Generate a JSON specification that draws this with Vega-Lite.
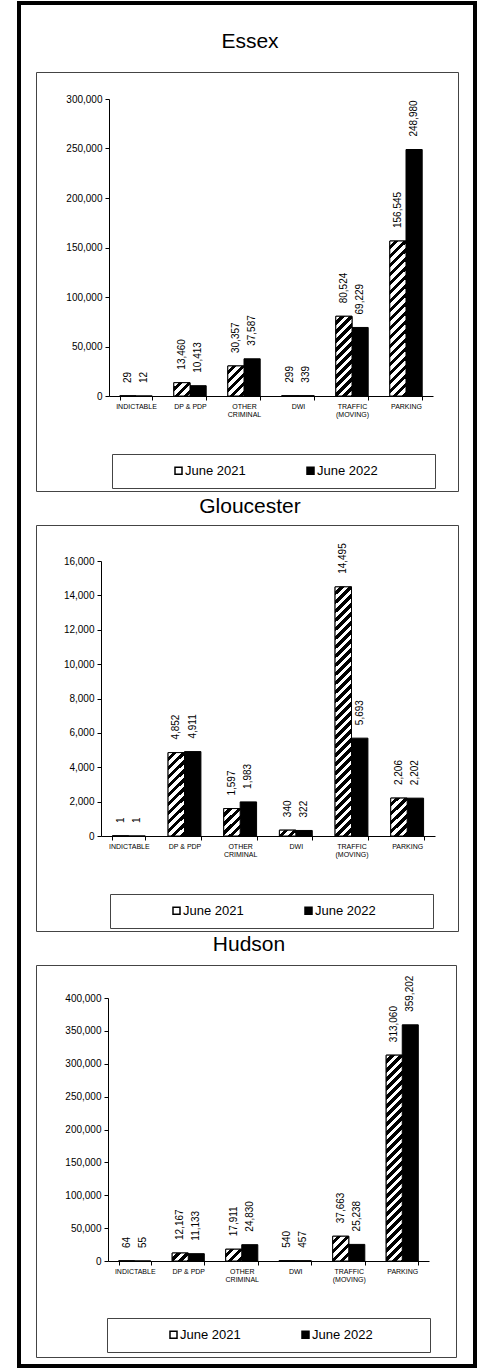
{
"$schema": "https://vega.github.io/schema/vega-lite/v6.json",
"background": "white",
"padding": {"left": 18, "top": 2, "right": 5, "bottom": 3},
"bounds": "flush",
"spacing": 34,
"datasets": {
"essex": [
{"cat":"INDICTABLE","year":"June 2021","v":29},
{"cat":"INDICTABLE","year":"June 2022","v":12},
{"cat":"DP & PDP","year":"June 2021","v":13460},
{"cat":"DP & PDP","year":"June 2022","v":10413},
{"cat":"OTHER CRIMINAL","year":"June 2021","v":30357},
{"cat":"OTHER CRIMINAL","year":"June 2022","v":37587},
{"cat":"DWI","year":"June 2021","v":299},
{"cat":"DWI","year":"June 2022","v":339},
{"cat":"TRAFFIC (MOVING)","year":"June 2021","v":80524},
{"cat":"TRAFFIC (MOVING)","year":"June 2022","v":69229},
{"cat":"PARKING","year":"June 2021","v":156545},
{"cat":"PARKING","year":"June 2022","v":248980}
],
"gloucester": [
{"cat":"INDICTABLE","year":"June 2021","v":1},
{"cat":"INDICTABLE","year":"June 2022","v":1},
{"cat":"DP & PDP","year":"June 2021","v":4852},
{"cat":"DP & PDP","year":"June 2022","v":4911},
{"cat":"OTHER CRIMINAL","year":"June 2021","v":1597},
{"cat":"OTHER CRIMINAL","year":"June 2022","v":1983},
{"cat":"DWI","year":"June 2021","v":340},
{"cat":"DWI","year":"June 2022","v":322},
{"cat":"TRAFFIC (MOVING)","year":"June 2021","v":14495},
{"cat":"TRAFFIC (MOVING)","year":"June 2022","v":5693},
{"cat":"PARKING","year":"June 2021","v":2206},
{"cat":"PARKING","year":"June 2022","v":2202}
],
"hudson": [
{"cat":"INDICTABLE","year":"June 2021","v":64},
{"cat":"INDICTABLE","year":"June 2022","v":55},
{"cat":"DP & PDP","year":"June 2021","v":12167},
{"cat":"DP & PDP","year":"June 2022","v":11133},
{"cat":"OTHER CRIMINAL","year":"June 2021","v":17911},
{"cat":"OTHER CRIMINAL","year":"June 2022","v":24830},
{"cat":"DWI","year":"June 2021","v":540},
{"cat":"DWI","year":"June 2022","v":457},
{"cat":"TRAFFIC (MOVING)","year":"June 2021","v":37663},
{"cat":"TRAFFIC (MOVING)","year":"June 2022","v":25238},
{"cat":"PARKING","year":"June 2021","v":313060},
{"cat":"PARKING","year":"June 2022","v":359202}
]
},
"resolve": {"scale": {"fill": "independent", "xOffset": "independent", "stroke": "independent"}, "legend": {"fill": "independent", "stroke": "independent"}},
"vconcat": [
{
"width": 422, "height": 1,
"view": {"stroke": null},
"data": {"name": "essex"},
"mark": {"type": "point", "opacity": 0},
"encoding": {
"stroke": {"field": "v", "type": "quantitative", "scale": {"range": ["transparent", "transparent"]},
"legend": {"orient": "none", "legendX": -17, "legendY": -34, "direction": "vertical", "title": null, "gradientLength": 1363, "gradientThickness": 456, "gradientStrokeWidth": 4, "gradientStrokeColor": "black", "strokeColor": "transparent", "padding": 0, "labelOpacity": 0, "labelFontSize": 1, "labelExpr": "''"}}
}
},
{
"title": {"text": "Essex", "offset": 20, "fontWeight": 400, "fontSize": 21},
"width": 422, "height": 419,
"data": {"name": "essex"},
"encoding": {
"x": {"field": "cat", "type": "nominal", "title": null, "sort": ["INDICTABLE","DP & PDP","OTHER CRIMINAL","DWI","TRAFFIC (MOVING)","PARKING"],
"scale": {"range": [73, 397], "paddingInner": 0.4, "paddingOuter": 0.2},
"axis": {"offset": -95, "tickBand": "extent", "labelExpr": "datum.label == 'OTHER CRIMINAL' ? ['OTHER', 'CRIMINAL'] : datum.label == 'TRAFFIC (MOVING)' ? ['TRAFFIC', '(MOVING)'] : datum.label"}},
"xOffset": {"field": "year", "type": "nominal", "scale": {"paddingInner": 0, "paddingOuter": 0}},
"y": {"field": "v", "type": "quantitative", "title": null, "scale": {"domain": [0, 300000], "range": [324, 27], "nice": false},
"axis": {"offset": -73, "values": [0,50000,100000,150000,200000,250000,300000], "format": ",d"}}
},
"layer": [
{"mark": {"type": "bar", "stroke": "black", "strokeWidth": 1},
"encoding": {"fill": {"field": "year", "type": "nominal", "scale": {"range": ["white", "black"]},
"legend": {"orient": "none", "legendX": 76, "legendY": 382, "direction": "horizontal", "title": "\u200b\u00a0\u00a0\u00a0\u00a0\u00a0\u00a0\u00a0\u00a0\u00a0\u00a0\u00a0\u00a0\u00a0\u200b", "labelExpr": "datum.label + '\u00a0\u00a0\u00a0\u00a0\u00a0\u00a0\u00a0\u00a0\u00a0\u00a0\u00a0\u00a0\u00a0\u200b'"}}}},
{"transform": [{"filter": "datum.year == 'June 2021'"}],
"mark": {"type": "bar", "stroke": "black", "strokeWidth": 1},
"encoding": {"fill": {"condition": [
{"test": "datum.cat == 'DP & PDP'", "value": {"gradient":"linear","x1":0,"y1":0,"x2":9.979,"y2":8.295,"stops":[{"offset":0,"color":"#fff"},{"offset":0.01667,"color":"#fff"},{"offset":0.01667,"color":"#000"},{"offset":0.03333,"color":"#000"},{"offset":0.03333,"color":"#fff"},{"offset":0.05,"color":"#fff"},{"offset":0.05,"color":"#000"},{"offset":0.06667,"color":"#000"},{"offset":0.06667,"color":"#fff"},{"offset":0.08333,"color":"#fff"},{"offset":0.08333,"color":"#000"},{"offset":0.1,"color":"#000"},{"offset":0.1,"color":"#fff"},{"offset":0.11667,"color":"#fff"},{"offset":0.11667,"color":"#000"}]}},
{"test": "datum.cat == 'OTHER CRIMINAL'", "value": {"gradient":"linear","x1":0,"y1":0,"x2":3.718,"y2":6.994,"stops":[{"offset":0,"color":"#fff"},{"offset":0.01667,"color":"#fff"},{"offset":0.01667,"color":"#000"},{"offset":0.03333,"color":"#000"},{"offset":0.03333,"color":"#fff"},{"offset":0.05,"color":"#fff"},{"offset":0.05,"color":"#000"},{"offset":0.06667,"color":"#000"},{"offset":0.06667,"color":"#fff"},{"offset":0.08333,"color":"#fff"},{"offset":0.08333,"color":"#000"},{"offset":0.1,"color":"#000"},{"offset":0.1,"color":"#fff"},{"offset":0.11667,"color":"#fff"},{"offset":0.11667,"color":"#000"},{"offset":0.13333,"color":"#000"},{"offset":0.13333,"color":"#fff"},{"offset":0.15,"color":"#fff"},{"offset":0.15,"color":"#000"},{"offset":0.16667,"color":"#000"},{"offset":0.16667,"color":"#fff"},{"offset":0.18333,"color":"#fff"},{"offset":0.18333,"color":"#000"}]}},
{"test": "datum.cat == 'TRAFFIC (MOVING)'", "value": {"gradient":"linear","x1":0,"y1":0,"x2":0.6538,"y2":3.2565,"stops":[{"offset":0,"color":"#fff"},{"offset":0.01667,"color":"#fff"},{"offset":0.01667,"color":"#000"},{"offset":0.03333,"color":"#000"},{"offset":0.03333,"color":"#fff"},{"offset":0.05,"color":"#fff"},{"offset":0.05,"color":"#000"},{"offset":0.06667,"color":"#000"},{"offset":0.06667,"color":"#fff"},{"offset":0.08333,"color":"#fff"},{"offset":0.08333,"color":"#000"},{"offset":0.1,"color":"#000"},{"offset":0.1,"color":"#fff"},{"offset":0.11667,"color":"#fff"},{"offset":0.11667,"color":"#000"},{"offset":0.13333,"color":"#000"},{"offset":0.13333,"color":"#fff"},{"offset":0.15,"color":"#fff"},{"offset":0.15,"color":"#000"},{"offset":0.16667,"color":"#000"},{"offset":0.16667,"color":"#fff"},{"offset":0.18333,"color":"#fff"},{"offset":0.18333,"color":"#000"},{"offset":0.2,"color":"#000"},{"offset":0.2,"color":"#fff"},{"offset":0.21667,"color":"#fff"},{"offset":0.21667,"color":"#000"},{"offset":0.23333,"color":"#000"},{"offset":0.23333,"color":"#fff"},{"offset":0.25,"color":"#fff"},{"offset":0.25,"color":"#000"},{"offset":0.26667,"color":"#000"},{"offset":0.26667,"color":"#fff"},{"offset":0.28333,"color":"#fff"},{"offset":0.28333,"color":"#000"},{"offset":0.3,"color":"#000"},{"offset":0.3,"color":"#fff"},{"offset":0.31667,"color":"#fff"},{"offset":0.31667,"color":"#000"},{"offset":0.33333,"color":"#000"},{"offset":0.33333,"color":"#fff"},{"offset":0.35,"color":"#fff"},{"offset":0.35,"color":"#000"},{"offset":0.36667,"color":"#000"},{"offset":0.36667,"color":"#fff"}]}},
{"test": "datum.cat == 'PARKING'", "value": {"gradient":"linear","x1":0,"y1":0,"x2":0.17791,"y2":1.7236,"stops":[{"offset":0,"color":"#fff"},{"offset":0.01667,"color":"#fff"},{"offset":0.01667,"color":"#000"},{"offset":0.03333,"color":"#000"},{"offset":0.03333,"color":"#fff"},{"offset":0.05,"color":"#fff"},{"offset":0.05,"color":"#000"},{"offset":0.06667,"color":"#000"},{"offset":0.06667,"color":"#fff"},{"offset":0.08333,"color":"#fff"},{"offset":0.08333,"color":"#000"},{"offset":0.1,"color":"#000"},{"offset":0.1,"color":"#fff"},{"offset":0.11667,"color":"#fff"},{"offset":0.11667,"color":"#000"},{"offset":0.13333,"color":"#000"},{"offset":0.13333,"color":"#fff"},{"offset":0.15,"color":"#fff"},{"offset":0.15,"color":"#000"},{"offset":0.16667,"color":"#000"},{"offset":0.16667,"color":"#fff"},{"offset":0.18333,"color":"#fff"},{"offset":0.18333,"color":"#000"},{"offset":0.2,"color":"#000"},{"offset":0.2,"color":"#fff"},{"offset":0.21667,"color":"#fff"},{"offset":0.21667,"color":"#000"},{"offset":0.23333,"color":"#000"},{"offset":0.23333,"color":"#fff"},{"offset":0.25,"color":"#fff"},{"offset":0.25,"color":"#000"},{"offset":0.26667,"color":"#000"},{"offset":0.26667,"color":"#fff"},{"offset":0.28333,"color":"#fff"},{"offset":0.28333,"color":"#000"},{"offset":0.3,"color":"#000"},{"offset":0.3,"color":"#fff"},{"offset":0.31667,"color":"#fff"},{"offset":0.31667,"color":"#000"},{"offset":0.33333,"color":"#000"},{"offset":0.33333,"color":"#fff"},{"offset":0.35,"color":"#fff"},{"offset":0.35,"color":"#000"},{"offset":0.36667,"color":"#000"},{"offset":0.36667,"color":"#fff"},{"offset":0.38333,"color":"#fff"},{"offset":0.38333,"color":"#000"},{"offset":0.4,"color":"#000"},{"offset":0.4,"color":"#fff"},{"offset":0.41667,"color":"#fff"},{"offset":0.41667,"color":"#000"},{"offset":0.43333,"color":"#000"},{"offset":0.43333,"color":"#fff"},{"offset":0.45,"color":"#fff"},{"offset":0.45,"color":"#000"},{"offset":0.46667,"color":"#000"},{"offset":0.46667,"color":"#fff"},{"offset":0.48333,"color":"#fff"},{"offset":0.48333,"color":"#000"},{"offset":0.5,"color":"#000"},{"offset":0.5,"color":"#fff"},{"offset":0.51667,"color":"#fff"},{"offset":0.51667,"color":"#000"},{"offset":0.53333,"color":"#000"},{"offset":0.53333,"color":"#fff"},{"offset":0.55,"color":"#fff"},{"offset":0.55,"color":"#000"},{"offset":0.56667,"color":"#000"},{"offset":0.56667,"color":"#fff"},{"offset":0.58333,"color":"#fff"},{"offset":0.58333,"color":"#000"},{"offset":0.6,"color":"#000"},{"offset":0.6,"color":"#fff"},{"offset":0.61667,"color":"#fff"},{"offset":0.61667,"color":"#000"},{"offset":0.63333,"color":"#000"},{"offset":0.63333,"color":"#fff"}]}}
], "value": "white"}}},
{"mark": {"type": "text", "angle": 270, "align": "left", "baseline": "middle", "dx": 13, "fontSize": 10, "font": "Liberation Sans", "color": "black"},
"encoding": {"text": {"field": "v", "type": "quantitative", "format": ",d"}}}
]
},
{
"title": {"text": "Gloucester", "offset": 8, "fontWeight": 400, "fontSize": 21},
"width": 422, "height": 406,
"data": {"name": "gloucester"},
"encoding": {
"x": {"field": "cat", "type": "nominal", "title": null, "sort": ["INDICTABLE","DP & PDP","OTHER CRIMINAL","DWI","TRAFFIC (MOVING)","PARKING"],
"scale": {"range": [65, 399], "paddingInner": 0.41, "paddingOuter": 0.205},
"axis": {"offset": -95, "tickBand": "extent", "labelExpr": "datum.label == 'OTHER CRIMINAL' ? ['OTHER', 'CRIMINAL'] : datum.label == 'TRAFFIC (MOVING)' ? ['TRAFFIC', '(MOVING)'] : datum.label"}},
"xOffset": {"field": "year", "type": "nominal", "scale": {"paddingInner": 0, "paddingOuter": 0}},
"y": {"field": "v", "type": "quantitative", "title": null, "scale": {"domain": [0, 16000], "range": [311, 36], "nice": false},
"axis": {"offset": -65, "values": [0,2000,4000,6000,8000,10000,12000,14000,16000], "format": ",d"}}
},
"layer": [
{"mark": {"type": "bar", "stroke": "black", "strokeWidth": 1},
"encoding": {"fill": {"field": "year", "type": "nominal", "scale": {"range": ["white", "black"]},
"legend": {"orient": "none", "legendX": 74, "legendY": 369, "direction": "horizontal", "title": "\u200b\u00a0\u00a0\u00a0\u00a0\u00a0\u00a0\u00a0\u00a0\u00a0\u00a0\u00a0\u00a0\u00a0\u200b", "labelExpr": "datum.label + '\u00a0\u00a0\u00a0\u00a0\u00a0\u00a0\u00a0\u00a0\u00a0\u00a0\u00a0\u00a0\u00a0\u200b'"}}}},
{"transform": [{"filter": "datum.year == 'June 2021'"}],
"mark": {"type": "bar", "stroke": "black", "strokeWidth": 1},
"encoding": {"fill": {"condition": [
{"test": "datum.cat == 'DP & PDP'", "value": {"gradient":"linear","x1":0,"y1":0,"x2":0.599,"y2":3.1225,"stops":[{"offset":0,"color":"#fff"},{"offset":0.01667,"color":"#fff"},{"offset":0.01667,"color":"#000"},{"offset":0.03333,"color":"#000"},{"offset":0.03333,"color":"#fff"},{"offset":0.05,"color":"#fff"},{"offset":0.05,"color":"#000"},{"offset":0.06667,"color":"#000"},{"offset":0.06667,"color":"#fff"},{"offset":0.08333,"color":"#fff"},{"offset":0.08333,"color":"#000"},{"offset":0.1,"color":"#000"},{"offset":0.1,"color":"#fff"},{"offset":0.11667,"color":"#fff"},{"offset":0.11667,"color":"#000"},{"offset":0.13333,"color":"#000"},{"offset":0.13333,"color":"#fff"},{"offset":0.15,"color":"#fff"},{"offset":0.15,"color":"#000"},{"offset":0.16667,"color":"#000"},{"offset":0.16667,"color":"#fff"},{"offset":0.18333,"color":"#fff"},{"offset":0.18333,"color":"#000"},{"offset":0.2,"color":"#000"},{"offset":0.2,"color":"#fff"},{"offset":0.21667,"color":"#fff"},{"offset":0.21667,"color":"#000"},{"offset":0.23333,"color":"#000"},{"offset":0.23333,"color":"#fff"},{"offset":0.25,"color":"#fff"},{"offset":0.25,"color":"#000"},{"offset":0.26667,"color":"#000"},{"offset":0.26667,"color":"#fff"},{"offset":0.28333,"color":"#fff"},{"offset":0.28333,"color":"#000"},{"offset":0.3,"color":"#000"},{"offset":0.3,"color":"#fff"},{"offset":0.31667,"color":"#fff"},{"offset":0.31667,"color":"#000"},{"offset":0.33333,"color":"#000"},{"offset":0.33333,"color":"#fff"},{"offset":0.35,"color":"#fff"},{"offset":0.35,"color":"#000"},{"offset":0.36667,"color":"#000"},{"offset":0.36667,"color":"#fff"},{"offset":0.38333,"color":"#fff"},{"offset":0.38333,"color":"#000"}]}},
{"test": "datum.cat == 'OTHER CRIMINAL'", "value": {"gradient":"linear","x1":0,"y1":0,"x2":4.291,"y2":7.348,"stops":[{"offset":0,"color":"#fff"},{"offset":0.01667,"color":"#fff"},{"offset":0.01667,"color":"#000"},{"offset":0.03333,"color":"#000"},{"offset":0.03333,"color":"#fff"},{"offset":0.05,"color":"#fff"},{"offset":0.05,"color":"#000"},{"offset":0.06667,"color":"#000"},{"offset":0.06667,"color":"#fff"},{"offset":0.08333,"color":"#fff"},{"offset":0.08333,"color":"#000"},{"offset":0.1,"color":"#000"},{"offset":0.1,"color":"#fff"},{"offset":0.11667,"color":"#fff"},{"offset":0.11667,"color":"#000"},{"offset":0.13333,"color":"#000"},{"offset":0.13333,"color":"#fff"},{"offset":0.15,"color":"#fff"},{"offset":0.15,"color":"#000"},{"offset":0.16667,"color":"#000"},{"offset":0.16667,"color":"#fff"}]}},
{"test": "datum.cat == 'DWI'", "value": {"gradient":"linear","x1":0,"y1":0,"x2":14.917,"y2":5.4075,"stops":[{"offset":0,"color":"#fff"},{"offset":0.01667,"color":"#fff"},{"offset":0.01667,"color":"#000"},{"offset":0.03333,"color":"#000"},{"offset":0.03333,"color":"#fff"},{"offset":0.05,"color":"#fff"},{"offset":0.05,"color":"#000"},{"offset":0.06667,"color":"#000"},{"offset":0.06667,"color":"#fff"},{"offset":0.08333,"color":"#fff"},{"offset":0.08333,"color":"#000"}]}},
{"test": "datum.cat == 'TRAFFIC (MOVING)'", "value": {"gradient":"linear","x1":0,"y1":0,"x2":0.069335,"y2":1.07946,"stops":[{"offset":0,"color":"#fff"},{"offset":0.01667,"color":"#fff"},{"offset":0.01667,"color":"#000"},{"offset":0.03333,"color":"#000"},{"offset":0.03333,"color":"#fff"},{"offset":0.05,"color":"#fff"},{"offset":0.05,"color":"#000"},{"offset":0.06667,"color":"#000"},{"offset":0.06667,"color":"#fff"},{"offset":0.08333,"color":"#fff"},{"offset":0.08333,"color":"#000"},{"offset":0.1,"color":"#000"},{"offset":0.1,"color":"#fff"},{"offset":0.11667,"color":"#fff"},{"offset":0.11667,"color":"#000"},{"offset":0.13333,"color":"#000"},{"offset":0.13333,"color":"#fff"},{"offset":0.15,"color":"#fff"},{"offset":0.15,"color":"#000"},{"offset":0.16667,"color":"#000"},{"offset":0.16667,"color":"#fff"},{"offset":0.18333,"color":"#fff"},{"offset":0.18333,"color":"#000"},{"offset":0.2,"color":"#000"},{"offset":0.2,"color":"#fff"},{"offset":0.21667,"color":"#fff"},{"offset":0.21667,"color":"#000"},{"offset":0.23333,"color":"#000"},{"offset":0.23333,"color":"#fff"},{"offset":0.25,"color":"#fff"},{"offset":0.25,"color":"#000"},{"offset":0.26667,"color":"#000"},{"offset":0.26667,"color":"#fff"},{"offset":0.28333,"color":"#fff"},{"offset":0.28333,"color":"#000"},{"offset":0.3,"color":"#000"},{"offset":0.3,"color":"#fff"},{"offset":0.31667,"color":"#fff"},{"offset":0.31667,"color":"#000"},{"offset":0.33333,"color":"#000"},{"offset":0.33333,"color":"#fff"},{"offset":0.35,"color":"#fff"},{"offset":0.35,"color":"#000"},{"offset":0.36667,"color":"#000"},{"offset":0.36667,"color":"#fff"},{"offset":0.38333,"color":"#fff"},{"offset":0.38333,"color":"#000"},{"offset":0.4,"color":"#000"},{"offset":0.4,"color":"#fff"},{"offset":0.41667,"color":"#fff"},{"offset":0.41667,"color":"#000"},{"offset":0.43333,"color":"#000"},{"offset":0.43333,"color":"#fff"},{"offset":0.45,"color":"#fff"},{"offset":0.45,"color":"#000"},{"offset":0.46667,"color":"#000"},{"offset":0.46667,"color":"#fff"},{"offset":0.48333,"color":"#fff"},{"offset":0.48333,"color":"#000"},{"offset":0.5,"color":"#000"},{"offset":0.5,"color":"#fff"},{"offset":0.51667,"color":"#fff"},{"offset":0.51667,"color":"#000"},{"offset":0.53333,"color":"#000"},{"offset":0.53333,"color":"#fff"},{"offset":0.55,"color":"#fff"},{"offset":0.55,"color":"#000"},{"offset":0.56667,"color":"#000"},{"offset":0.56667,"color":"#fff"},{"offset":0.58333,"color":"#fff"},{"offset":0.58333,"color":"#000"},{"offset":0.6,"color":"#000"},{"offset":0.6,"color":"#fff"},{"offset":0.61667,"color":"#fff"},{"offset":0.61667,"color":"#000"},{"offset":0.63333,"color":"#000"},{"offset":0.63333,"color":"#fff"},{"offset":0.65,"color":"#fff"},{"offset":0.65,"color":"#000"},{"offset":0.66667,"color":"#000"},{"offset":0.66667,"color":"#fff"},{"offset":0.68333,"color":"#fff"},{"offset":0.68333,"color":"#000"},{"offset":0.7,"color":"#000"},{"offset":0.7,"color":"#fff"},{"offset":0.71667,"color":"#fff"},{"offset":0.71667,"color":"#000"},{"offset":0.73333,"color":"#000"},{"offset":0.73333,"color":"#fff"},{"offset":0.75,"color":"#fff"},{"offset":0.75,"color":"#000"},{"offset":0.76667,"color":"#000"},{"offset":0.76667,"color":"#fff"},{"offset":0.78333,"color":"#fff"},{"offset":0.78333,"color":"#000"},{"offset":0.8,"color":"#000"},{"offset":0.8,"color":"#fff"},{"offset":0.81667,"color":"#fff"},{"offset":0.81667,"color":"#000"},{"offset":0.83333,"color":"#000"},{"offset":0.83333,"color":"#fff"},{"offset":0.85,"color":"#fff"},{"offset":0.85,"color":"#000"},{"offset":0.86667,"color":"#000"},{"offset":0.86667,"color":"#fff"},{"offset":0.88333,"color":"#fff"},{"offset":0.88333,"color":"#000"},{"offset":0.9,"color":"#000"},{"offset":0.9,"color":"#fff"},{"offset":0.91667,"color":"#fff"},{"offset":0.91667,"color":"#000"},{"offset":0.93333,"color":"#000"},{"offset":0.93333,"color":"#fff"},{"offset":0.95,"color":"#fff"},{"offset":0.95,"color":"#000"},{"offset":0.96667,"color":"#000"},{"offset":0.96667,"color":"#fff"},{"offset":0.98333,"color":"#fff"},{"offset":0.98333,"color":"#000"}]}},
{"test": "datum.cat == 'PARKING'", "value": {"gradient":"linear","x1":0,"y1":0,"x2":2.5526,"y2":6.0464,"stops":[{"offset":0,"color":"#fff"},{"offset":0.01667,"color":"#fff"},{"offset":0.01667,"color":"#000"},{"offset":0.03333,"color":"#000"},{"offset":0.03333,"color":"#fff"},{"offset":0.05,"color":"#fff"},{"offset":0.05,"color":"#000"},{"offset":0.06667,"color":"#000"},{"offset":0.06667,"color":"#fff"},{"offset":0.08333,"color":"#fff"},{"offset":0.08333,"color":"#000"},{"offset":0.1,"color":"#000"},{"offset":0.1,"color":"#fff"},{"offset":0.11667,"color":"#fff"},{"offset":0.11667,"color":"#000"},{"offset":0.13333,"color":"#000"},{"offset":0.13333,"color":"#fff"},{"offset":0.15,"color":"#fff"},{"offset":0.15,"color":"#000"},{"offset":0.16667,"color":"#000"},{"offset":0.16667,"color":"#fff"},{"offset":0.18333,"color":"#fff"},{"offset":0.18333,"color":"#000"},{"offset":0.2,"color":"#000"},{"offset":0.2,"color":"#fff"}]}}
], "value": "white"}}},
{"mark": {"type": "text", "angle": 270, "align": "left", "baseline": "middle", "dx": 13, "fontSize": 10, "font": "Liberation Sans", "color": "black"},
"encoding": {"text": {"field": "v", "type": "quantitative", "format": ",d"}}}
]
},
{
"title": {"text": "Hudson", "offset": 10, "fontWeight": 400, "fontSize": 21},
"width": 420, "height": 392,
"data": {"name": "hudson"},
"encoding": {
"x": {"field": "cat", "type": "nominal", "title": null, "sort": ["INDICTABLE","DP & PDP","OTHER CRIMINAL","DWI","TRAFFIC (MOVING)","PARKING"],
"scale": {"range": [72, 393], "paddingInner": 0.4, "paddingOuter": 0.2},
"axis": {"offset": -96, "tickBand": "extent", "labelExpr": "datum.label == 'OTHER CRIMINAL' ? ['OTHER', 'CRIMINAL'] : datum.label == 'TRAFFIC (MOVING)' ? ['TRAFFIC', '(MOVING)'] : datum.label"}},
"xOffset": {"field": "year", "type": "nominal", "scale": {"paddingInner": 0, "paddingOuter": 0}},
"y": {"field": "v", "type": "quantitative", "title": null, "scale": {"domain": [0, 400000], "range": [296, 33], "nice": false},
"axis": {"offset": -72, "values": [0,50000,100000,150000,200000,250000,300000,350000,400000], "format": ",d"}}
},
"layer": [
{"mark": {"type": "bar", "stroke": "black", "strokeWidth": 1},
"encoding": {"fill": {"field": "year", "type": "nominal", "scale": {"range": ["white", "black"]},
"legend": {"orient": "none", "legendX": 71, "legendY": 353, "direction": "horizontal", "title": "\u200b\u00a0\u00a0\u00a0\u00a0\u00a0\u00a0\u00a0\u00a0\u00a0\u00a0\u00a0\u00a0\u00a0\u200b", "labelExpr": "datum.label + '\u00a0\u00a0\u00a0\u00a0\u00a0\u00a0\u00a0\u00a0\u00a0\u00a0\u00a0\u00a0\u00a0\u200b'"}}}},
{"transform": [{"filter": "datum.year == 'June 2021'"}],
"mark": {"type": "bar", "stroke": "black", "strokeWidth": 1},
"encoding": {"fill": {"condition": [
{"test": "datum.cat == 'DP & PDP'", "value": {"gradient":"linear","x1":0,"y1":0,"x2":13.5,"y2":6.75,"stops":[{"offset":0,"color":"#fff"},{"offset":0.01667,"color":"#fff"},{"offset":0.01667,"color":"#000"},{"offset":0.03333,"color":"#000"},{"offset":0.03333,"color":"#fff"},{"offset":0.05,"color":"#fff"},{"offset":0.05,"color":"#000"},{"offset":0.06667,"color":"#000"},{"offset":0.06667,"color":"#fff"},{"offset":0.08333,"color":"#fff"},{"offset":0.08333,"color":"#000"},{"offset":0.1,"color":"#000"},{"offset":0.1,"color":"#fff"}]}},
{"test": "datum.cat == 'OTHER CRIMINAL'", "value": {"gradient":"linear","x1":0,"y1":0,"x2":10.931,"y2":8.062,"stops":[{"offset":0,"color":"#fff"},{"offset":0.01667,"color":"#fff"},{"offset":0.01667,"color":"#000"},{"offset":0.03333,"color":"#000"},{"offset":0.03333,"color":"#fff"},{"offset":0.05,"color":"#fff"},{"offset":0.05,"color":"#000"},{"offset":0.06667,"color":"#000"},{"offset":0.06667,"color":"#fff"},{"offset":0.08333,"color":"#fff"},{"offset":0.08333,"color":"#000"},{"offset":0.1,"color":"#000"},{"offset":0.1,"color":"#fff"},{"offset":0.11667,"color":"#fff"},{"offset":0.11667,"color":"#000"}]}},
{"test": "datum.cat == 'TRAFFIC (MOVING)'", "value": {"gradient":"linear","x1":0,"y1":0,"x2":4.96,"y2":7.688,"stops":[{"offset":0,"color":"#fff"},{"offset":0.01667,"color":"#fff"},{"offset":0.01667,"color":"#000"},{"offset":0.03333,"color":"#000"},{"offset":0.03333,"color":"#fff"},{"offset":0.05,"color":"#fff"},{"offset":0.05,"color":"#000"},{"offset":0.06667,"color":"#000"},{"offset":0.06667,"color":"#fff"},{"offset":0.08333,"color":"#fff"},{"offset":0.08333,"color":"#000"},{"offset":0.1,"color":"#000"},{"offset":0.1,"color":"#fff"},{"offset":0.11667,"color":"#fff"},{"offset":0.11667,"color":"#000"},{"offset":0.13333,"color":"#000"},{"offset":0.13333,"color":"#fff"},{"offset":0.15,"color":"#fff"},{"offset":0.15,"color":"#000"},{"offset":0.16667,"color":"#000"},{"offset":0.16667,"color":"#fff"}]}},
{"test": "datum.cat == 'PARKING'", "value": {"gradient":"linear","x1":0,"y1":0,"x2":0.10139,"y2":1.30407,"stops":[{"offset":0,"color":"#fff"},{"offset":0.01667,"color":"#fff"},{"offset":0.01667,"color":"#000"},{"offset":0.03333,"color":"#000"},{"offset":0.03333,"color":"#fff"},{"offset":0.05,"color":"#fff"},{"offset":0.05,"color":"#000"},{"offset":0.06667,"color":"#000"},{"offset":0.06667,"color":"#fff"},{"offset":0.08333,"color":"#fff"},{"offset":0.08333,"color":"#000"},{"offset":0.1,"color":"#000"},{"offset":0.1,"color":"#fff"},{"offset":0.11667,"color":"#fff"},{"offset":0.11667,"color":"#000"},{"offset":0.13333,"color":"#000"},{"offset":0.13333,"color":"#fff"},{"offset":0.15,"color":"#fff"},{"offset":0.15,"color":"#000"},{"offset":0.16667,"color":"#000"},{"offset":0.16667,"color":"#fff"},{"offset":0.18333,"color":"#fff"},{"offset":0.18333,"color":"#000"},{"offset":0.2,"color":"#000"},{"offset":0.2,"color":"#fff"},{"offset":0.21667,"color":"#fff"},{"offset":0.21667,"color":"#000"},{"offset":0.23333,"color":"#000"},{"offset":0.23333,"color":"#fff"},{"offset":0.25,"color":"#fff"},{"offset":0.25,"color":"#000"},{"offset":0.26667,"color":"#000"},{"offset":0.26667,"color":"#fff"},{"offset":0.28333,"color":"#fff"},{"offset":0.28333,"color":"#000"},{"offset":0.3,"color":"#000"},{"offset":0.3,"color":"#fff"},{"offset":0.31667,"color":"#fff"},{"offset":0.31667,"color":"#000"},{"offset":0.33333,"color":"#000"},{"offset":0.33333,"color":"#fff"},{"offset":0.35,"color":"#fff"},{"offset":0.35,"color":"#000"},{"offset":0.36667,"color":"#000"},{"offset":0.36667,"color":"#fff"},{"offset":0.38333,"color":"#fff"},{"offset":0.38333,"color":"#000"},{"offset":0.4,"color":"#000"},{"offset":0.4,"color":"#fff"},{"offset":0.41667,"color":"#fff"},{"offset":0.41667,"color":"#000"},{"offset":0.43333,"color":"#000"},{"offset":0.43333,"color":"#fff"},{"offset":0.45,"color":"#fff"},{"offset":0.45,"color":"#000"},{"offset":0.46667,"color":"#000"},{"offset":0.46667,"color":"#fff"},{"offset":0.48333,"color":"#fff"},{"offset":0.48333,"color":"#000"},{"offset":0.5,"color":"#000"},{"offset":0.5,"color":"#fff"},{"offset":0.51667,"color":"#fff"},{"offset":0.51667,"color":"#000"},{"offset":0.53333,"color":"#000"},{"offset":0.53333,"color":"#fff"},{"offset":0.55,"color":"#fff"},{"offset":0.55,"color":"#000"},{"offset":0.56667,"color":"#000"},{"offset":0.56667,"color":"#fff"},{"offset":0.58333,"color":"#fff"},{"offset":0.58333,"color":"#000"},{"offset":0.6,"color":"#000"},{"offset":0.6,"color":"#fff"},{"offset":0.61667,"color":"#fff"},{"offset":0.61667,"color":"#000"},{"offset":0.63333,"color":"#000"},{"offset":0.63333,"color":"#fff"},{"offset":0.65,"color":"#fff"},{"offset":0.65,"color":"#000"},{"offset":0.66667,"color":"#000"},{"offset":0.66667,"color":"#fff"},{"offset":0.68333,"color":"#fff"},{"offset":0.68333,"color":"#000"},{"offset":0.7,"color":"#000"},{"offset":0.7,"color":"#fff"},{"offset":0.71667,"color":"#fff"},{"offset":0.71667,"color":"#000"},{"offset":0.73333,"color":"#000"},{"offset":0.73333,"color":"#fff"},{"offset":0.75,"color":"#fff"},{"offset":0.75,"color":"#000"},{"offset":0.76667,"color":"#000"},{"offset":0.76667,"color":"#fff"},{"offset":0.78333,"color":"#fff"},{"offset":0.78333,"color":"#000"},{"offset":0.8,"color":"#000"},{"offset":0.8,"color":"#fff"},{"offset":0.81667,"color":"#fff"},{"offset":0.81667,"color":"#000"},{"offset":0.83333,"color":"#000"},{"offset":0.83333,"color":"#fff"}]}}
], "value": "white"}}},
{"mark": {"type": "text", "angle": 270, "align": "left", "baseline": "middle", "dx": 13, "fontSize": 10, "font": "Liberation Sans", "color": "black"},
"encoding": {"text": {"field": "v", "type": "quantitative", "format": ",d"}}}
]
}
],
"config": {
"font": "Liberation Sans",
"view": {"stroke": "#444", "strokeWidth": 1},
"title": {"font": "Liberation Sans", "fontSize": 21, "fontWeight": 400, "color": "black", "anchor": "middle", "frame": "group", "baseline": "alphabetic", "dx": 3},
"style": {"group-title": {"fontWeight": 400, "fontSize": 21}},
"axis": {"domainColor": "black", "tickColor": "black", "labelColor": "black", "labelFont": "Liberation Sans", "tickSize": 4, "grid": false, "domainWidth": 1, "tickWidth": 1},
"axisX": {"labelFontSize": 7, "labelAngle": 0, "labelPadding": 2, "labelLineHeight": 8},
"axisY": {"labelFontSize": 10, "labelPadding": 3},
"legend": {"labelFont": "Liberation Sans", "labelFontSize": 13, "labelColor": "black", "symbolType": "square", "symbolSize": 49, "symbolStrokeColor": "black", "symbolStrokeWidth": 1.5, "strokeColor": "#444", "padding": 10, "columnPadding": 11, "labelOffset": 0, "titleFont": "Liberation Sans", "titleFontSize": 13, "titlePadding": 3, "titleOrient": "left"}
}
}
